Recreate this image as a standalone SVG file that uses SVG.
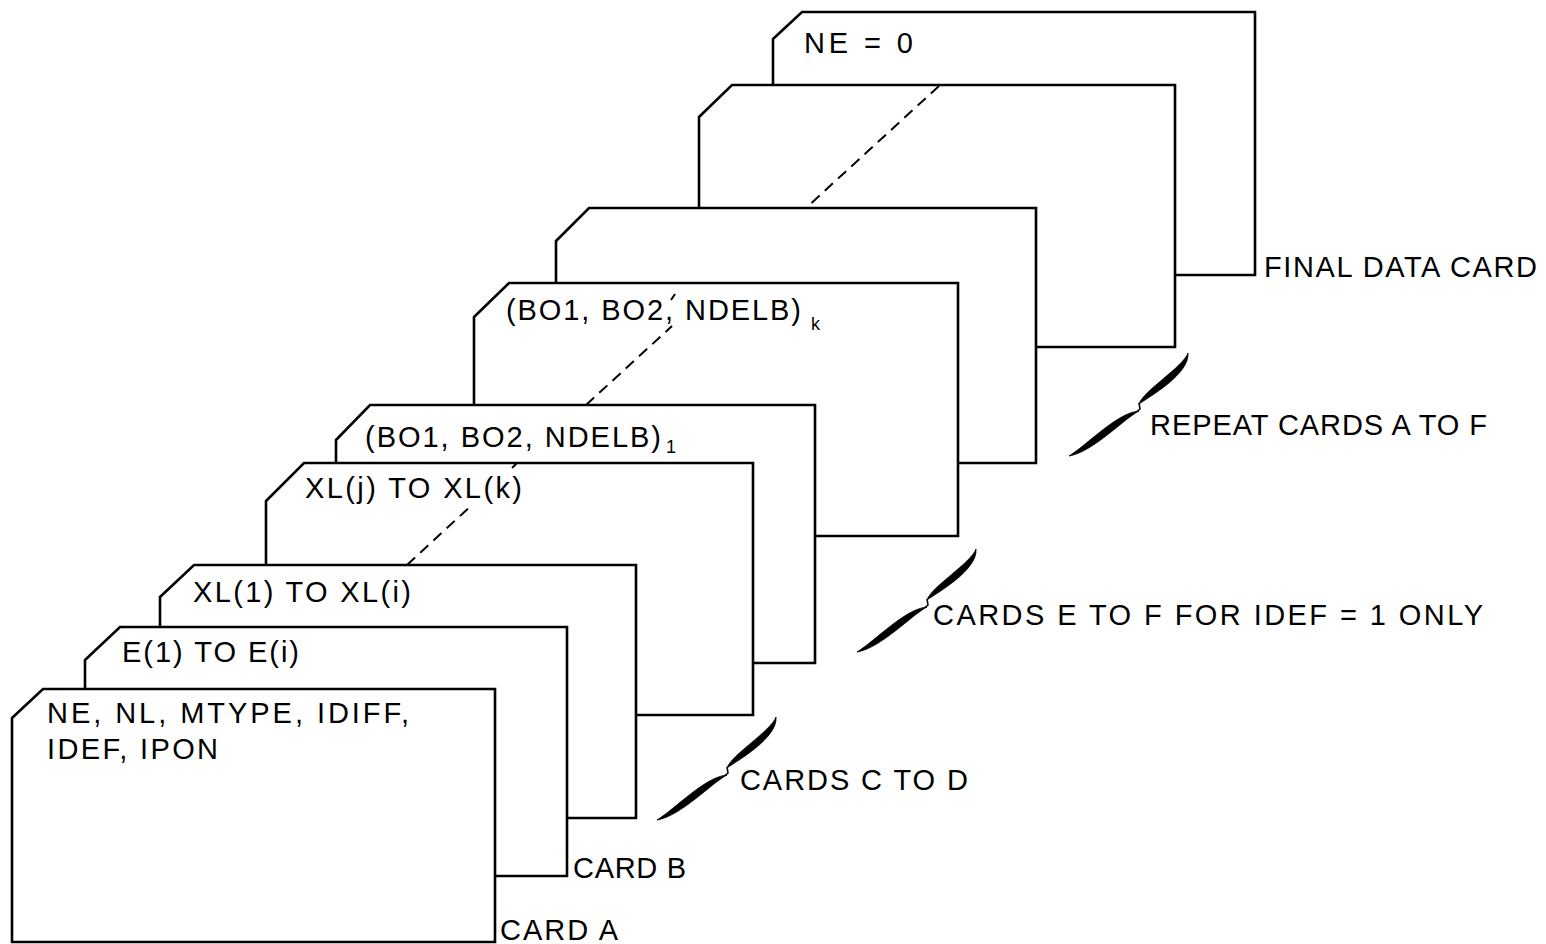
<svg xmlns="http://www.w3.org/2000/svg" xmlns:xlink="http://www.w3.org/1999/xlink" width="1546" height="944" viewBox="0 0 1546 944">
<style>
.card{fill:#fff;stroke:#000;stroke-width:2.6;stroke-linejoin:miter}
.t{font-family:"Liberation Sans",Arial,sans-serif;font-size:29px;fill:#000}
.sub{font-family:"Liberation Sans",Arial,sans-serif;font-size:18px;fill:#000}
.dash{fill:none;stroke:#000;stroke-width:2;stroke-dasharray:11 7}
.tick{fill:none;stroke:#000;stroke-width:2}
.brace{fill:#000;stroke:#000;stroke-width:0.8}
</style>
<defs>
<g id="brace">
<path class="brace" d="M-1,-6 C9,-13 50,-36 48,-57 C43,-43 3,-19 -1,-6 Z"/>
<path class="brace" d="M-1,1 C-17,9.5 -47,42 -71,46 C-52.5,34.5 -22.5,2.5 -1,1 Z"/>
<path fill="none" stroke="#000" stroke-width="1.6" d="M-1,-7 L0,-1 L-3,1.5"/>
</g>
</defs>
<rect width="1546" height="944" fill="#fff"/>

<g id="card-final">
<path class="card" d="M773,39 L802,12 L1255,12 L1255,275 L773,275 Z"/>
<text class="t" x="804" y="53" textLength="109" lengthAdjust="spacing">NE = 0</text>
</g>
<g id="card-h">
<path class="card" d="M699,117 L732,85 L1175,85 L1175,347 L699,347 Z"/>
</g>
<g id="card-g">
<path class="card" d="M556,241 L589,208 L1036,208 L1036,463 L556,463 Z"/>
</g>
<g id="card-f">
<path class="card" d="M474,317 L509,283 L958,283 L958,536 L474,536 Z"/>
<text class="t" x="506" y="320" textLength="295" lengthAdjust="spacing">(BO1, BO2, NDELB)</text>
<text class="sub" x="811" y="330">k</text>
</g>
<g id="card-e">
<path class="card" d="M336,440 L370,405 L815,405 L815,663 L336,663 Z"/>
<text class="t" x="365" y="447" textLength="296" lengthAdjust="spacing">(BO1, BO2, NDELB)</text>
<text class="sub" x="666" y="453">1</text>
</g>
<g id="card-d">
<path class="card" d="M266,501 L304,463 L753,463 L753,715 L266,715 Z"/>
<text class="t" x="305" y="498" textLength="217" lengthAdjust="spacing">XL(j) TO XL(k)</text>
</g>
<g id="card-c">
<path class="card" d="M160,597 L194,565 L636,565 L636,818 L160,818 Z"/>
<text class="t" x="193" y="602" textLength="218" lengthAdjust="spacing">XL(1) TO XL(i)</text>
</g>
<g id="card-b">
<path class="card" d="M85,660 L120,627 L567,627 L567,876 L85,876 Z"/>
<text class="t" x="122" y="662" textLength="177" lengthAdjust="spacing">E(1) TO E(i)</text>
</g>
<g id="card-a">
<path class="card" d="M12,718 L43,689 L495,689 L495,942 L12,942 Z"/>
<text class="t" x="47" y="723" textLength="362" lengthAdjust="spacing">NE, NL, MTYPE, IDIFF,</text>
<text class="t" x="47" y="759" textLength="171" lengthAdjust="spacing">IDEF, IPON</text>
</g>

<g id="connectors">
<path class="dash" d="M939,86 L806,208"/>
<path class="dash" d="M586,405 L672,326"/>
<path class="tick" d="M671,300 L675,294"/>
<path class="dash" d="M407,565 L473,504"/>
<path class="tick" d="M512,468 L517,463"/>
</g>

<g id="label-final">
<text class="t" x="1264" y="277" textLength="273" lengthAdjust="spacing">FINAL DATA CARD</text>
</g>
<g id="label-repeat">
<use xlink:href="#brace" href="#brace" transform="translate(1140,410)"/>
<text class="t" x="1150" y="435" textLength="337" lengthAdjust="spacing">REPEAT CARDS A TO F</text>
</g>
<g id="label-ef">
<use xlink:href="#brace" href="#brace" transform="translate(928,606)"/>
<text class="t" x="933" y="625" textLength="550" lengthAdjust="spacing">CARDS E TO F FOR IDEF = 1 ONLY</text>
</g>
<g id="label-cd">
<use xlink:href="#brace" href="#brace" transform="translate(728,774)"/>
<text class="t" x="740" y="790" textLength="228" lengthAdjust="spacing">CARDS C TO D</text>
</g>
<g id="label-b">
<text class="t" x="573" y="878" textLength="113" lengthAdjust="spacing">CARD B</text>
</g>
<g id="label-a">
<text class="t" x="500" y="940" textLength="118" lengthAdjust="spacing">CARD A</text>
</g>
</svg>
